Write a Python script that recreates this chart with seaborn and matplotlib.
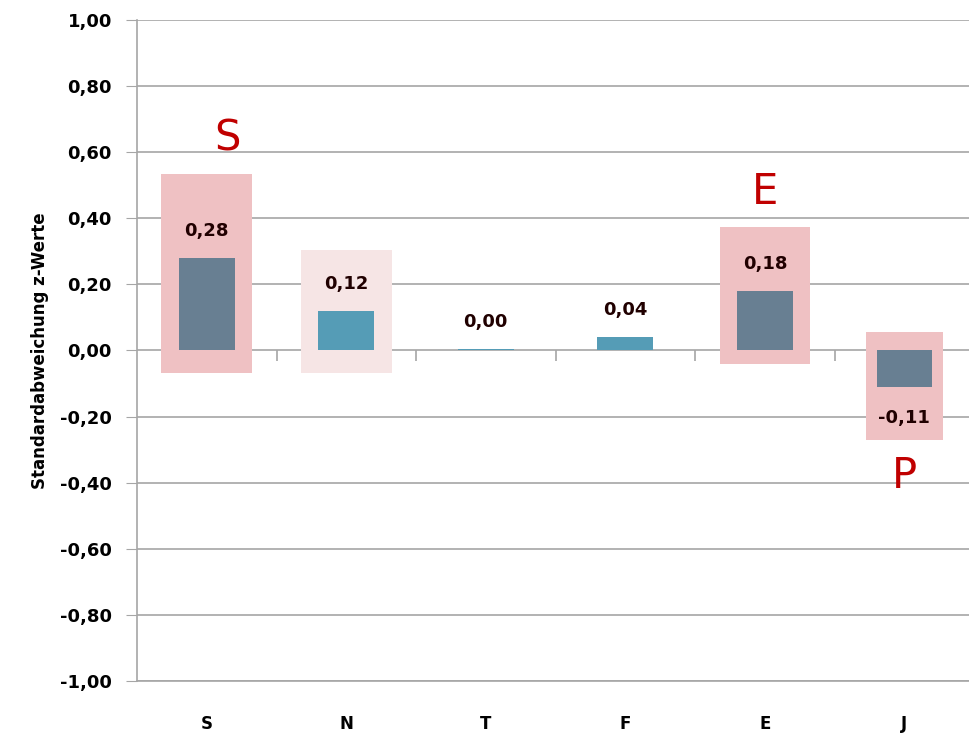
import matplotlib
matplotlib.use("Agg")
import matplotlib.pyplot as plt
import seaborn as sns
from matplotlib.ticker import FuncFormatter, FixedLocator

# data
categories = ["S", "N", "T", "F", "E", "J"]
values = [0.28, 0.12, 0.005, 0.04, 0.18, -0.11]
value_labels = ["0,28", "0,12", "0,00", "0,04", "0,18", "-0,11"]
bar_colors = ["#687F92", "#559CB6", "#559CB6", "#559CB6", "#687F92", "#687F92"]

# highlight boxes behind some bars
box_cats = ["S", "N", "E", "J"]
box_top = [0.535, 0.305, 0.375, 0.055]
box_bottom = [-0.067, -0.067, -0.042, -0.27]
box_colors = ["#EFC1C3", "#F6E5E5", "#EFC1C3", "#EFC1C3"]
box_widths = [0.65, 0.65, 0.65, 0.55]

# red letters above/below boxes
letter_cats = ["S", "E", "J"]
letters = ["S", "E", "P"]
letter_y = [0.64, 0.48, -0.38]

sns.set_style("white")
plt.rcParams["font.family"] = ["DejaVu Sans"]

fig = plt.figure(figsize=(9.7, 7.35), dpi=100)
ax = fig.add_axes([0.1412, 0.0735, 0.8588, 0.8993])

pos = {c: i for i, c in enumerate(categories)}

# background boxes
for c, t, b, col, w in zip(box_cats, box_top, box_bottom, box_colors, box_widths):
    ax.bar(pos[c], t - b, bottom=b, width=w, color=col, zorder=1, linewidth=0)

sns.barplot(x=categories, y=values, hue=categories, palette=bar_colors,
            legend=False, width=0.4, saturation=1, ax=ax, zorder=3, linewidth=0)

bar_conts = ax.containers[-len(categories):]
for i, cont in enumerate(bar_conts):
    v = values[i]
    ax.bar_label(cont, labels=[value_labels[i]], padding=13 if v >= 0 else 16,
                 fontsize=13, fontweight="bold", color="#200000", zorder=5)

for c, l, y in zip(letter_cats, letters, letter_y):
    ax.text(pos[c] + 0.15 if c == "S" else pos[c], y, l, ha="center", va="center",
            fontsize=30, color="#C00000", zorder=5)

ax.set_ylim(-1.0, 1.0)
ax.set_xlim(-0.5, 5.47)
ax.set_yticks([-1 + 0.2 * k for k in range(11)])
ax.yaxis.set_major_formatter(FuncFormatter(lambda v, p: f"{v:.2f}".replace(".", ",").replace("-0,00", "0,00")))
ax.grid(axis="y", color="#A6A6A6", linewidth=1.2, zorder=0)
ax.set_axisbelow(True)

for s in ["top", "right"]:
    ax.spines[s].set_visible(False)
ax.spines["left"].set_color("#A6A6A6")
ax.spines["left"].set_linewidth(1.2)
ax.spines["bottom"].set_color("#A6A6A6")
ax.spines["bottom"].set_linewidth(1.2)

ax.tick_params(axis="y", which="major", left=True, length=8, color="#A6A6A6",
               labelsize=13, pad=10, labelcolor="black")
for t in ax.get_yticklabels():
    t.set_fontweight("bold")
ax.tick_params(axis="x", which="major", bottom=False, labelsize=12, pad=21,
               labelcolor="black")
for t in ax.get_xticklabels():
    t.set_fontweight("bold")

# small category separator ticks on the zero line
sec = ax.secondary_xaxis(0.5)
sec.xaxis.set_major_locator(FixedLocator([0.5, 1.5, 2.5, 3.5, 4.5]))
sec.xaxis.set_ticks_position("bottom")
sec.tick_params(axis="x", direction="out", length=8, width=1.2, color="#A6A6A6",
                labelbottom=False, labeltop=False)
for s in sec.spines.values():
    s.set_visible(False)

ax.set_ylabel("Standardabweichung z-Werte", fontsize=12, fontweight="bold",
              labelpad=8, color="black")
ax.set_xlabel("")

fig.savefig("out.png", dpi=100)
